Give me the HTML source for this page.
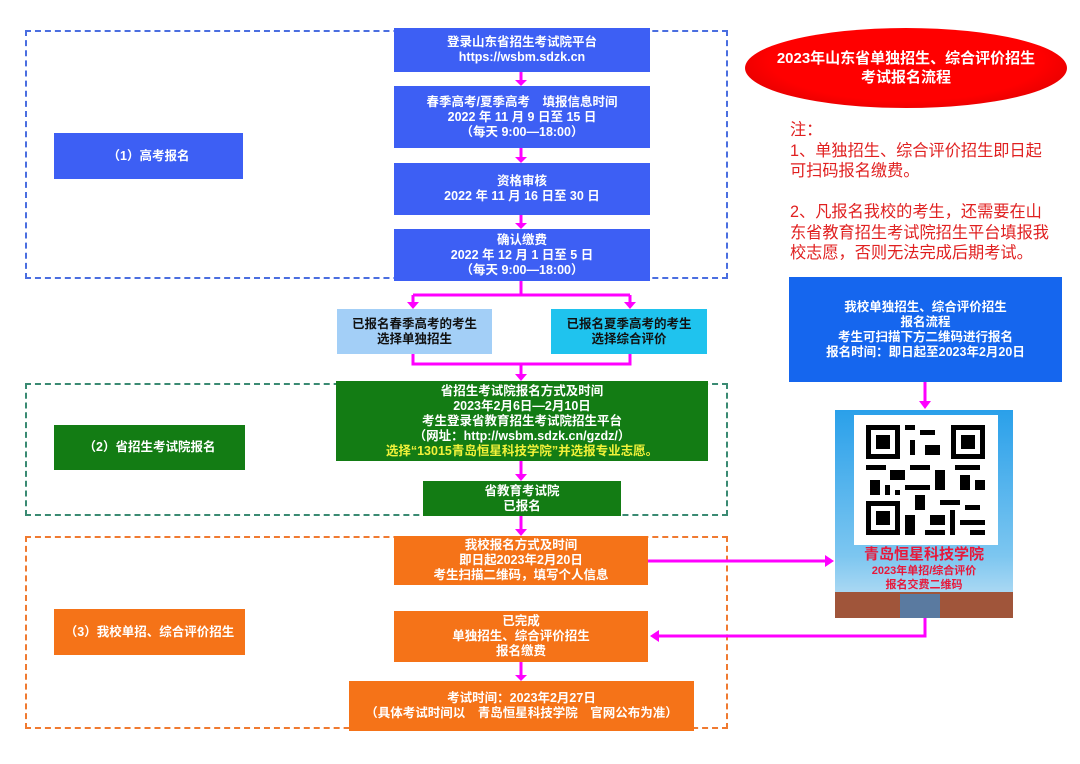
<!DOCTYPE html>
<html><head><meta charset="utf-8"><style>
body{margin:0;width:1080px;height:764px;background:#fff;position:relative;overflow:hidden;font-family:"Liberation Sans","Noto Sans CJK SC",sans-serif;font-weight:bold}
.b{position:absolute;display:flex;flex-direction:column;justify-content:center;align-items:center;text-align:center;color:#fff;font-size:12.5px;line-height:15px}
.blue{background:#3d5ff4}.green{background:#137c14}.orange{background:#f57318}
.dash{position:absolute;border:2.5px dashed}
svg{position:absolute;left:0;top:0}
</style></head><body>
<div class="dash" style="left:25px;top:30px;width:699px;height:245px;border-color:#4a6ee0"></div>
<div class="dash" style="left:25px;top:383px;width:699px;height:129px;border-color:#3a8a72"></div>
<div class="dash" style="left:25px;top:536px;width:699px;height:189px;border-color:#f07a30"></div>

<div class="b blue" style="left:394px;top:28px;width:256px;height:44px">登录山东省招生考试院平台<br>https://wsbm.sdzk.cn</div>
<div class="b blue" style="left:394px;top:86px;width:256px;height:62px">春季高考/夏季高考　填报信息时间<br>2022 年 11 月 9 日至 15 日<br>（每天 9:00—18:00）</div>
<div class="b blue" style="left:394px;top:163px;width:256px;height:52px">资格审核<br>2022 年 11 月 16 日至 30 日</div>
<div class="b blue" style="left:394px;top:229px;width:256px;height:52px">确认缴费<br>2022 年 12 月 1 日至 5 日<br>（每天 9:00—18:00）</div>
<div class="b blue" style="left:54px;top:133px;width:189px;height:46px">（1）高考报名</div>

<div class="b" style="left:337px;top:309px;width:155px;height:45px;background:#a3cff7;color:#111">已报名春季高考的考生<br>选择单独招生</div>
<div class="b" style="left:551px;top:309px;width:156px;height:45px;background:#1fc3ee;color:#111">已报名夏季高考的考生<br>选择综合评价</div>

<div class="b green" style="left:336px;top:381px;width:372px;height:80px">省招生考试院报名方式及时间<br>2023年2月6日—2月10日<br>考生登录省教育招生考试院招生平台<br>（网址：http://wsbm.sdzk.cn/gzdz/）<br><span style="color:#f2f23a">选择“13015青岛恒星科技学院”并选报专业志愿。</span></div>
<div class="b green" style="left:423px;top:481px;width:198px;height:35px">省教育考试院<br>已报名</div>
<div class="b green" style="left:54px;top:425px;width:191px;height:45px">（2）省招生考试院报名</div>

<div class="b orange" style="left:394px;top:536px;width:254px;height:49px">我校报名方式及时间<br>即日起2023年2月20日<br>考生扫描二维码，填写个人信息</div>
<div class="b orange" style="left:394px;top:611px;width:254px;height:51px">已完成<br>单独招生、综合评价招生<br>报名缴费</div>
<div class="b orange" style="left:349px;top:681px;width:345px;height:50px">考试时间：2023年2月27日<br>（具体考试时间以　青岛恒星科技学院　官网公布为准）</div>
<div class="b orange" style="left:54px;top:609px;width:191px;height:46px">（3）我校单招、综合评价招生</div>

<div class="b" style="left:745px;top:28px;width:322px;height:80px;border-radius:50%;background:radial-gradient(ellipse at 50% 40%,#f00 60%,#c80000 100%);font-size:15px;line-height:19px">2023年山东省单独招生、综合评价招生<br>考试报名流程</div>

<div style="position:absolute;left:790px;top:120px;width:285px;color:#e02020;font-weight:normal;font-size:16.2px;line-height:20.5px">注：<br>1、单独招生、综合评价招生即日起<br>可扫码报名缴费。<br><br>2、凡报名我校的考生，还需要在山<br>东省教育招生考试院招生平台填报我<br>校志愿，否则无法完成后期考试。</div>

<div class="b blue" style="left:789px;top:277px;width:273px;height:105px;background:#1566ee">我校单独招生、综合评价招生<br>报名流程<br>考生可扫描下方二维码进行报名<br>报名时间：即日起至2023年2月20日</div>

<div style="position:absolute;left:835px;top:410px;width:178px;height:208px;background:linear-gradient(#2aa0ea,#7cc6f0 70%,#c9e4f5)"></div>
<div style="position:absolute;left:854px;top:415px;width:144px;height:130px;background:#fff"></div>
<svg width="1080" height="764" viewBox="0 0 1080 764">
<g fill="#000">
<rect x="866" y="425" width="34" height="34"/><rect x="871" y="430" width="24" height="24" fill="#fff"/><rect x="876" y="435" width="14" height="14"/>
<rect x="951" y="425" width="34" height="34"/><rect x="956" y="430" width="24" height="24" fill="#fff"/><rect x="961" y="435" width="14" height="14"/>
<rect x="866" y="501" width="34" height="34"/><rect x="871" y="506" width="24" height="24" fill="#fff"/><rect x="876" y="511" width="14" height="14"/>
<rect x="905" y="425" width="10" height="5"/><rect x="920" y="430" width="15" height="5"/><rect x="910" y="440" width="5" height="15"/><rect x="925" y="445" width="15" height="10"/>
<rect x="866" y="465" width="20" height="5"/><rect x="890" y="470" width="15" height="10"/><rect x="870" y="480" width="10" height="15"/><rect x="910" y="465" width="20" height="5"/>
<rect x="935" y="470" width="10" height="20"/><rect x="955" y="465" width="25" height="5"/><rect x="960" y="475" width="10" height="15"/><rect x="975" y="480" width="10" height="10"/>
<rect x="905" y="485" width="25" height="5"/><rect x="915" y="495" width="10" height="15"/><rect x="940" y="500" width="20" height="5"/><rect x="905" y="515" width="10" height="20"/>
<rect x="930" y="515" width="15" height="10"/><rect x="950" y="510" width="5" height="25"/><rect x="965" y="505" width="15" height="5"/><rect x="960" y="520" width="25" height="5"/>
<rect x="925" y="530" width="20" height="5"/><rect x="970" y="530" width="15" height="5"/><rect x="895" y="490" width="5" height="5"/><rect x="885" y="485" width="5" height="10"/>
</g>
<rect x="835" y="592" width="178" height="26" fill="#a0553a"/>
<rect x="900" y="594" width="40" height="24" fill="#5a7aa0"/>
<text x="924" y="559" text-anchor="middle" font-size="15" fill="#e8183a" font-weight="bold" font-family="Liberation Sans,Noto Sans CJK SC,sans-serif">青岛恒星科技学院</text>
<text x="924" y="574" text-anchor="middle" font-size="11" fill="#e8183a" font-weight="bold" font-family="Liberation Sans,Noto Sans CJK SC,sans-serif">2023年单招/综合评价</text>
<text x="924" y="588" text-anchor="middle" font-size="11" fill="#e8183a" font-weight="bold" font-family="Liberation Sans,Noto Sans CJK SC,sans-serif">报名交费二维码</text>
<g stroke="#f0f" stroke-width="3" fill="none">
<line x1="521" y1="72" x2="521" y2="80"/><line x1="521" y1="148" x2="521" y2="157"/><line x1="521" y1="215" x2="521" y2="223"/>
<polyline points="521,281 521,295"/><line x1="413" y1="295" x2="630" y2="295"/><line x1="413" y1="295" x2="413" y2="303"/><line x1="630" y1="295" x2="630" y2="303"/>
<polyline points="413,354 413,364 630,364 630,354"/><line x1="521" y1="364" x2="521" y2="375"/>
<line x1="521" y1="461" x2="521" y2="475"/><line x1="521" y1="516" x2="521" y2="530"/><line x1="521" y1="662" x2="521" y2="675"/>
<line x1="648" y1="561" x2="826" y2="561"/><polyline points="925,618 925,636 658,636"/><line x1="925" y1="382" x2="925" y2="402"/>
</g>
<g fill="#f0f">
<polygon points="515,80 527,80 521,86"/><polygon points="515,157 527,157 521,163"/><polygon points="515,223 527,223 521,229"/>
<polygon points="407,302 419,302 413,309"/><polygon points="624,302 636,302 630,309"/><polygon points="515,374 527,374 521,381"/>
<polygon points="515,474 527,474 521,481"/><polygon points="515,529 527,529 521,536"/><polygon points="515,675 527,675 521,681"/>
<polygon points="825,555 825,567 834,561"/><polygon points="659,630 659,642 650,636"/><polygon points="919,401 931,401 925,409"/>
</g>
</svg>
</body></html>
